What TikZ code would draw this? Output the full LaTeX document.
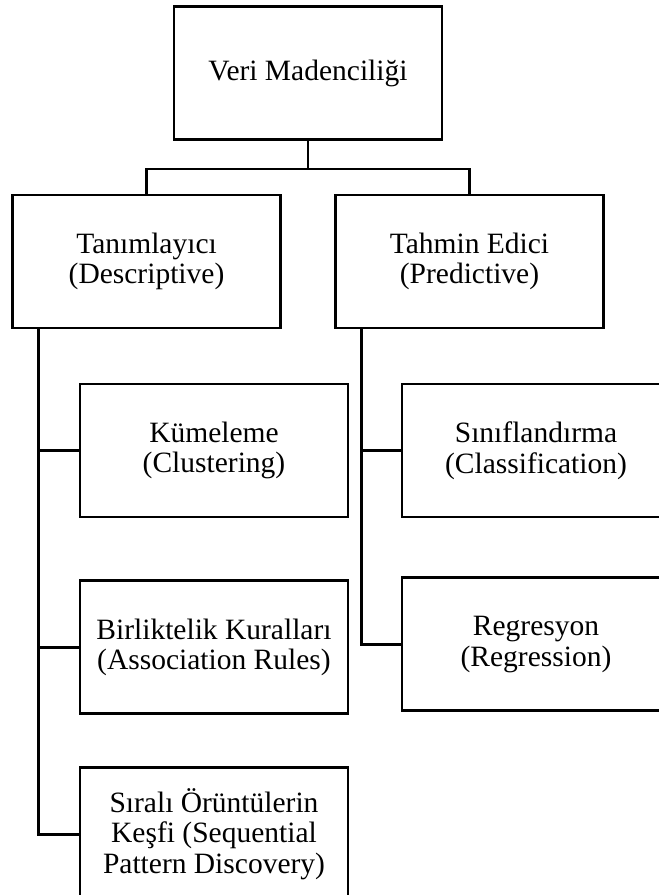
\documentclass[tikz,border=0pt]{standalone}
\usepackage{fontspec}
\setmainfont{Liberation Serif}
\usetikzlibrary{positioning}

\tikzset{
	box/.style={rectangle, draw, line width=2.8pt, minimum width=268pt, minimum height=133pt, align=center, inner sep=0pt, font=\fontsize{29.5}{30.5}\selectfont},
	link/.style={line width=2.8pt}
}

\begin{document}
\begin{tikzpicture}[x=1pt, y=-1pt]
	\useasboundingbox (0,0) rectangle (659,895);
	\node[box] (vm) at (308, 73) {Veri Madenciliği};

	\node[box] (desc) at (146.5, 261.5) {Tanımlayıcı\\(Descriptive)};
	\node[box] (pred) at (469.5, 261.5) {Tahmin Edici\\(Predictive)};

	\node[box] (kum) at (214, 450.5) {Kümeleme\\(Clustering)};
	\node[box, below=61pt of kum] (bir) {Birliktelik Kuralları\\(Association Rules)};
	\node[box, below=51pt of bir] (sir) {Sıralı Örüntülerin\\Keşfi (Sequential\\Pattern Discovery)};

	\node[box] (sin) at (536, 450.5) {Sınıflandırma\\(Classification)};
	\node[box, below=58pt of sin] (reg) {Regresyon\\(Regression)};

	% top level
	\draw[link] (vm.south) -- ++(0,28) -| (desc.north);
	\draw[link] (vm.south) -- ++(0,28) -| (pred.north);

	% descriptive branch
	\draw[link] ([xshift=27pt]desc.south west) |- (kum.west);
	\draw[link] ([xshift=27pt]desc.south west) |- (bir.west);
	\draw[link] ([xshift=27pt]desc.south west) |- (sir.west);

	% predictive branch
	\draw[link] ([xshift=27pt]pred.south west) |- (sin.west);
	\draw[link] ([xshift=27pt]pred.south west) |- (reg.west);
\end{tikzpicture}
\end{document}
